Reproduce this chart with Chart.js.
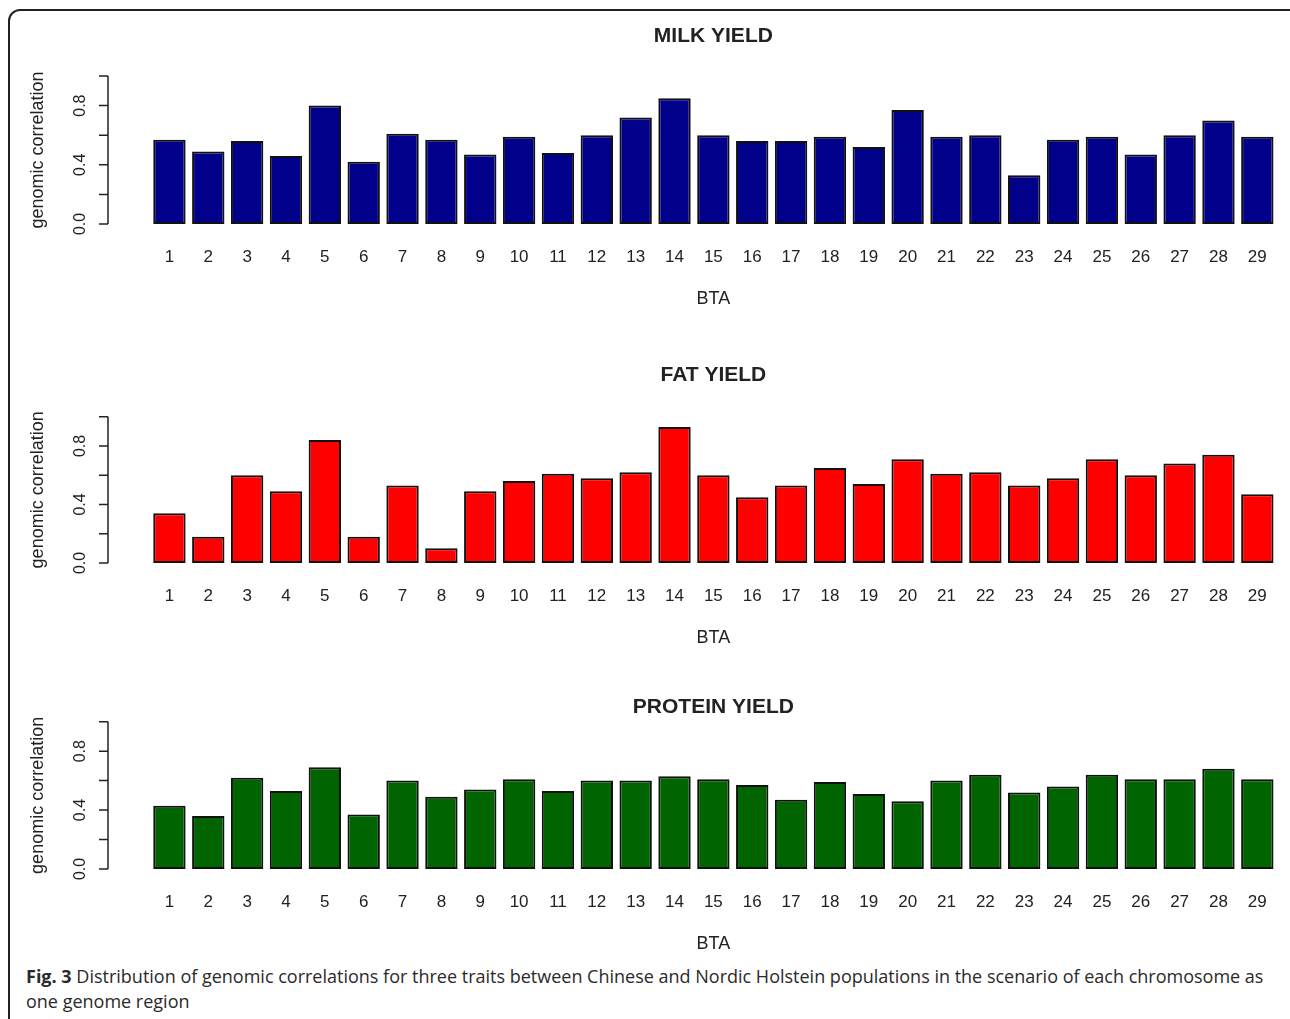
<!DOCTYPE html>
<html>
<head>
<meta charset="utf-8">
<script src="https://cdn.jsdelivr.net/npm/chart.js@4.4.1/dist/chart.umd.min.js"></script>
<style>
  body { margin: 0; background: #fff; width: 1290px; height: 1019px; overflow: hidden; position: relative; }
  .frame { position: absolute; left: 8px; top: 9px; width: 1310px; height: 1040px; border: 2px solid #222; border-radius: 12px; box-sizing: border-box; }
  .panel { position: absolute; left: 0; }
  .caption { position: absolute; left: 26px; top: 964px; font-family: "Open Sans", sans-serif; font-size: 18px; line-height: 25px; color: #2a2a2a; white-space: nowrap; }
  .caption b { font-weight: 700; }
</style>
</head>
<body>
<div class="frame"></div>
<canvas id="milk" class="panel"></canvas>
<canvas id="fat" class="panel"></canvas>
<canvas id="protein" class="panel"></canvas>
<div class="caption"><b>Fig. 3</b> Distribution of genomic correlations for three traits between Chinese and Nordic Holstein populations in the scenario of each chromosome as<br>one genome region</div>
<script>
// chromosomes (BTA) on the x axis
const chromosomes = ['1','2','3','4','5','6','7','8','9','10','11','12','13','14','15',
  '16','17','18','19','20','21','22','23','24','25','26','27','28','29'];

// genomic correlations
const milkYield = [0.57, 0.49, 0.56, 0.46, 0.80, 0.42, 0.61, 0.57, 0.47, 0.59, 0.48, 0.60, 0.72, 0.85, 0.60,
  0.56, 0.56, 0.59, 0.52, 0.77, 0.59, 0.60, 0.33, 0.57, 0.59, 0.47, 0.60, 0.70, 0.59];
const fatYield = [0.34, 0.18, 0.60, 0.49, 0.84, 0.18, 0.53, 0.10, 0.49, 0.56, 0.61, 0.58, 0.62, 0.93, 0.60,
  0.45, 0.53, 0.65, 0.54, 0.71, 0.61, 0.62, 0.53, 0.58, 0.71, 0.60, 0.68, 0.74, 0.47];
const proteinYield = [0.43, 0.36, 0.62, 0.53, 0.69, 0.37, 0.60, 0.49, 0.54, 0.61, 0.53, 0.60, 0.60, 0.63, 0.61,
  0.57, 0.47, 0.59, 0.51, 0.46, 0.60, 0.64, 0.52, 0.56, 0.64, 0.61, 0.61, 0.68, 0.61];

const yTicks = [0, 0.2, 0.4, 0.6, 0.8, 1.0];
const yTickLabels = ['0.0', '', '0.4', '', '0.8', ''];

Chart.defaults.font.family = '"Liberation Sans", Arial, sans-serif';
Chart.defaults.color = '#222';

// R style y axis: line only from 0 to 1, ticks outward, labels turned sideways
const rAxis = {
  id: 'rAxis',
  afterDraw(chart) {
    const ctx = chart.ctx;
    const y = chart.scales.y;
    const ax = chart.chartArea.left - 42;
    ctx.save();
    ctx.strokeStyle = '#222';
    ctx.lineWidth = 1.5;
    ctx.beginPath();
    ctx.moveTo(ax, y.getPixelForValue(0));
    ctx.lineTo(ax, y.getPixelForValue(1));
    yTicks.forEach(v => {
      const py = y.getPixelForValue(v);
      ctx.moveTo(ax, py);
      ctx.lineTo(ax - 9, py);
    });
    ctx.stroke();

    ctx.fillStyle = '#222';
    ctx.font = '16px "Liberation Sans", Arial, sans-serif';
    ctx.textAlign = 'center';
    ctx.textBaseline = 'middle';
    yTicks.forEach((v, i) => {
      if (!yTickLabels[i]) return;
      ctx.save();
      ctx.translate(ax - 27, y.getPixelForValue(v));
      ctx.rotate(-Math.PI / 2);
      ctx.fillText(yTickLabels[i], 0, 0);
      ctx.restore();
    });
    ctx.restore();
  }
};

function makePanel(id, title, values, color, top, titleMid, areaTop, areaBottom) {
  const canvas = document.getElementById(id);
  const height = Math.round(areaBottom - top) + 88;
  canvas.width = 1290;
  canvas.height = height;
  canvas.style.top = top + 'px';

  const titleSize = 21;
  const padTop = (titleMid - top) - titleSize * 1.2 / 2;
  const padBottom = (areaTop - top) - padTop - titleSize * 1.2;

  new Chart(canvas.getContext('2d'), {
    type: 'bar',
    data: {
      labels: chromosomes,
      datasets: [{
        data: values,
        backgroundColor: color,
        borderColor: '#111',
        borderWidth: 2,
        borderSkipped: false,
        barPercentage: 1 / 1.2,
        categoryPercentage: 1
      }]
    },
    options: {
      responsive: false,
      animation: false,
      devicePixelRatio: 1,
      layout: { padding: { left: 0, right: 13, top: 0, bottom: 1 } },
      plugins: {
        legend: { display: false },
        tooltip: { enabled: false },
        title: {
          display: true,
          text: title,
          fullSize: false,
          color: '#222',
          font: { size: titleSize, weight: 'bold' },
          padding: { top: padTop, bottom: padBottom }
        }
      },
      scales: {
        x: {
          grid: { display: false, drawTicks: false },
          border: { display: false },
          ticks: { padding: 23, autoSkip: false, maxRotation: 0, font: { size: 17 }, color: '#222' },
          title: { display: true, text: 'BTA', font: { size: 18 }, color: '#222', padding: { top: 0, bottom: 1 } },
          afterFit(scale) { scale.height = 87; }
        },
        y: {
          min: 0,
          max: 1,
          grid: { display: false, drawTicks: false },
          border: { display: false },
          ticks: { display: false },
          title: { display: true, text: 'genomic correlation', font: { size: 18 }, color: '#222', padding: { top: 27, bottom: 0 } },
          afterFit(scale) { scale.width = 150; }
        }
      }
    },
    plugins: [rAxis]
  });
}

makePanel('milk', 'MILK YIELD', milkYield, '#00008b', 0, 36, 76, 224);
makePanel('fat', 'FAT YIELD', fatYield, '#ff0000', 340, 375, 416.7, 563.3);
makePanel('protein', 'PROTEIN YIELD', proteinYield, '#006400', 670, 707, 721.7, 869.3);
</script>
</body>
</html>
